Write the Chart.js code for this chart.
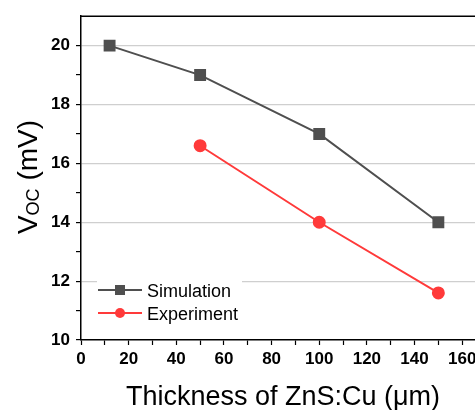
<!DOCTYPE html>
<html><head><meta charset="utf-8">
<script src="https://cdn.jsdelivr.net/npm/chart.js@4/dist/chart.umd.min.js"></script>
<style>html,body{margin:0;padding:0;background:#fff;overflow:hidden;width:475px;height:410px}#wrap{width:500px;height:410px;position:relative}</style>
</head><body><div id="wrap"><canvas id="c" width="500" height="410"></canvas></div>
<script>
const simX = [12, 50, 100, 150];
const simY = [20, 19, 17, 14];
const expX = [50, 100, 150];
const expY = [16.6, 14, 11.6];
const expErr = [0.12, 0.12, 0.12];
const seriesNames = ['Simulation', 'Experiment'];
const xTickLabels = [0, 20, 40, 60, 80, 100, 120, 140, 160];
const yTickLabels = [10, 12, 14, 16, 18, 20];
const xTitle = 'Thickness of ZnS:Cu (\u03bcm)';

const simColor = '#4f4f4f';
const expColor = '#ff3a3a';
const FONT = '"Liberation Sans", Arial, sans-serif';

const decor = {
  id: 'decor',
  beforeDatasetsDraw(chart) {
    const {ctx, chartArea: a} = chart;
    ctx.save();
    ctx.strokeStyle = '#000'; ctx.lineWidth = 1.5;
    ctx.beginPath(); ctx.moveTo(a.left, a.top); ctx.lineTo(a.right, a.top); ctx.stroke();
    const xs = chart.scales.x, ys = chart.scales.y;
    ctx.strokeStyle = expColor; ctx.lineWidth = 1.2;
    expX.forEach((x, i) => {
      const px = xs.getPixelForValue(x);
      const p1 = ys.getPixelForValue(expY[i] + expErr[i]);
      const p2 = ys.getPixelForValue(expY[i] - expErr[i]);
      ctx.beginPath(); ctx.moveTo(px, p1); ctx.lineTo(px, p2);
      ctx.moveTo(px - 3, p1); ctx.lineTo(px + 3, p1);
      ctx.moveTo(px - 3, p2); ctx.lineTo(px + 3, p2); ctx.stroke();
    });
    ctx.restore();
  },
  afterDatasetsDraw(chart) {
    const {ctx, chartArea: a} = chart;
    ctx.save();
    ctx.fillStyle = '#fff';
    ctx.fillRect(97, 277, 145, 48);
    const items = [
      {name: seriesNames[0], color: simColor, shape: 'rect', y: 290},
      {name: seriesNames[1], color: expColor, shape: 'circle', y: 313}
    ];
    items.forEach(it => {
      ctx.strokeStyle = it.color; ctx.lineWidth = 2;
      ctx.beginPath(); ctx.moveTo(98, it.y); ctx.lineTo(142, it.y); ctx.stroke();
      ctx.fillStyle = it.color;
      if (it.shape === 'rect') ctx.fillRect(120 - 5, it.y - 5, 10, 10);
      else { ctx.beginPath(); ctx.arc(120, it.y, 5, 0, Math.PI * 2); ctx.fill(); }
      ctx.fillStyle = '#000';
      ctx.font = '18px ' + FONT;
      ctx.textBaseline = 'alphabetic'; ctx.textAlign = 'left';
      ctx.fillText(it.name, 147, it.y + 7);
    });
    // x title
    ctx.font = '27px ' + FONT;
    ctx.textAlign = 'center'; ctx.textBaseline = 'alphabetic';
    ctx.fillText(xTitle, 283, 405);
    // y title with subscript
    ctx.translate(37, 177);
    ctx.rotate(-Math.PI / 2);
    ctx.fillStyle = '#000';
    const big = '28px ' + FONT;
    const small = '18px ' + FONT;
    ctx.font = big; const wV = ctx.measureText('V').width;
    ctx.font = small; const wS = ctx.measureText('OC').width;
    ctx.font = big; const wR = ctx.measureText(' (mV)').width;
    let x0 = -(wV + wS + wR) / 2;
    ctx.textAlign = 'left';
    ctx.font = big; ctx.fillText('V', x0, 0);
    ctx.font = small; ctx.fillText('OC', x0 + wV, 2);
    ctx.font = big; ctx.fillText(' (mV)', x0 + wV + wS, 0);
    ctx.restore();
  }
};

new Chart(document.getElementById('c'), {
  type: 'scatter',
  data: {
    datasets: [
      {label: seriesNames[0], data: simX.map((x, i) => ({x, y: simY[i]})), showLine: true,
       borderColor: simColor, backgroundColor: simColor, borderWidth: 2, pointStyle: 'rect', pointRadius: 7, pointHoverRadius: 7},
      {label: seriesNames[1], data: expX.map((x, i) => ({x, y: expY[i]})), showLine: true,
       borderColor: expColor, backgroundColor: expColor, borderWidth: 2, pointStyle: 'circle', pointRadius: 5.5, pointHoverRadius: 5.5}
    ]
  },
  options: {
    responsive: false, animation: false, devicePixelRatio: 1,
    layout: {padding: {top: 14, right: 14, left: 0, bottom: 0}},
    plugins: {legend: {display: false}, tooltip: {enabled: false}},
    scales: {
      x: {
        type: 'linear', min: 0, max: 170,
        afterBuildTicks(s) { s.ticks = []; for (let v = 0; v <= 170; v += 10) s.ticks.push({value: v}); },
        afterFit(s) { s.height = 70; },
        border: {color: '#000', width: 1.5},
        grid: {drawOnChartArea: false, tickLength: 5, tickColor: c => (c.tick && c.tick.value === 170) ? 'rgba(0,0,0,0)' : '#000', tickWidth: 1.2},
        ticks: {autoSkip: false, maxRotation: 0, padding: 4, color: '#000',
          font: {family: FONT, size: 17, weight: 'bold'},
          callback: v => xTickLabels.includes(v) ? String(v) : ''}
      },
      y: {
        type: 'linear', min: 10, max: 21,
        afterBuildTicks(s) { s.ticks = []; for (let v = 10; v <= 21; v += 1) s.ticks.push({value: v}); },
        afterFit(s) { s.width = 81; },
        border: {color: '#000', width: 1.5},
        grid: {tickLength: 5, tickWidth: 1.2,
          color: c => (c.tick && yTickLabels.includes(c.tick.value) && c.tick.value !== 10) ? '#cfcfcf' : 'rgba(0,0,0,0)',
          lineWidth: 1.2,
          tickColor: c => (c.tick && c.tick.value === 21) ? 'rgba(0,0,0,0)' : '#000'},
        ticks: {autoSkip: false, padding: 6, color: '#000',
          font: {family: FONT, size: 17, weight: 'bold'},
          callback: v => yTickLabels.includes(v) ? String(v) : ''}
      }
    }
  },
  plugins: [decor]
});
</script></body></html>
